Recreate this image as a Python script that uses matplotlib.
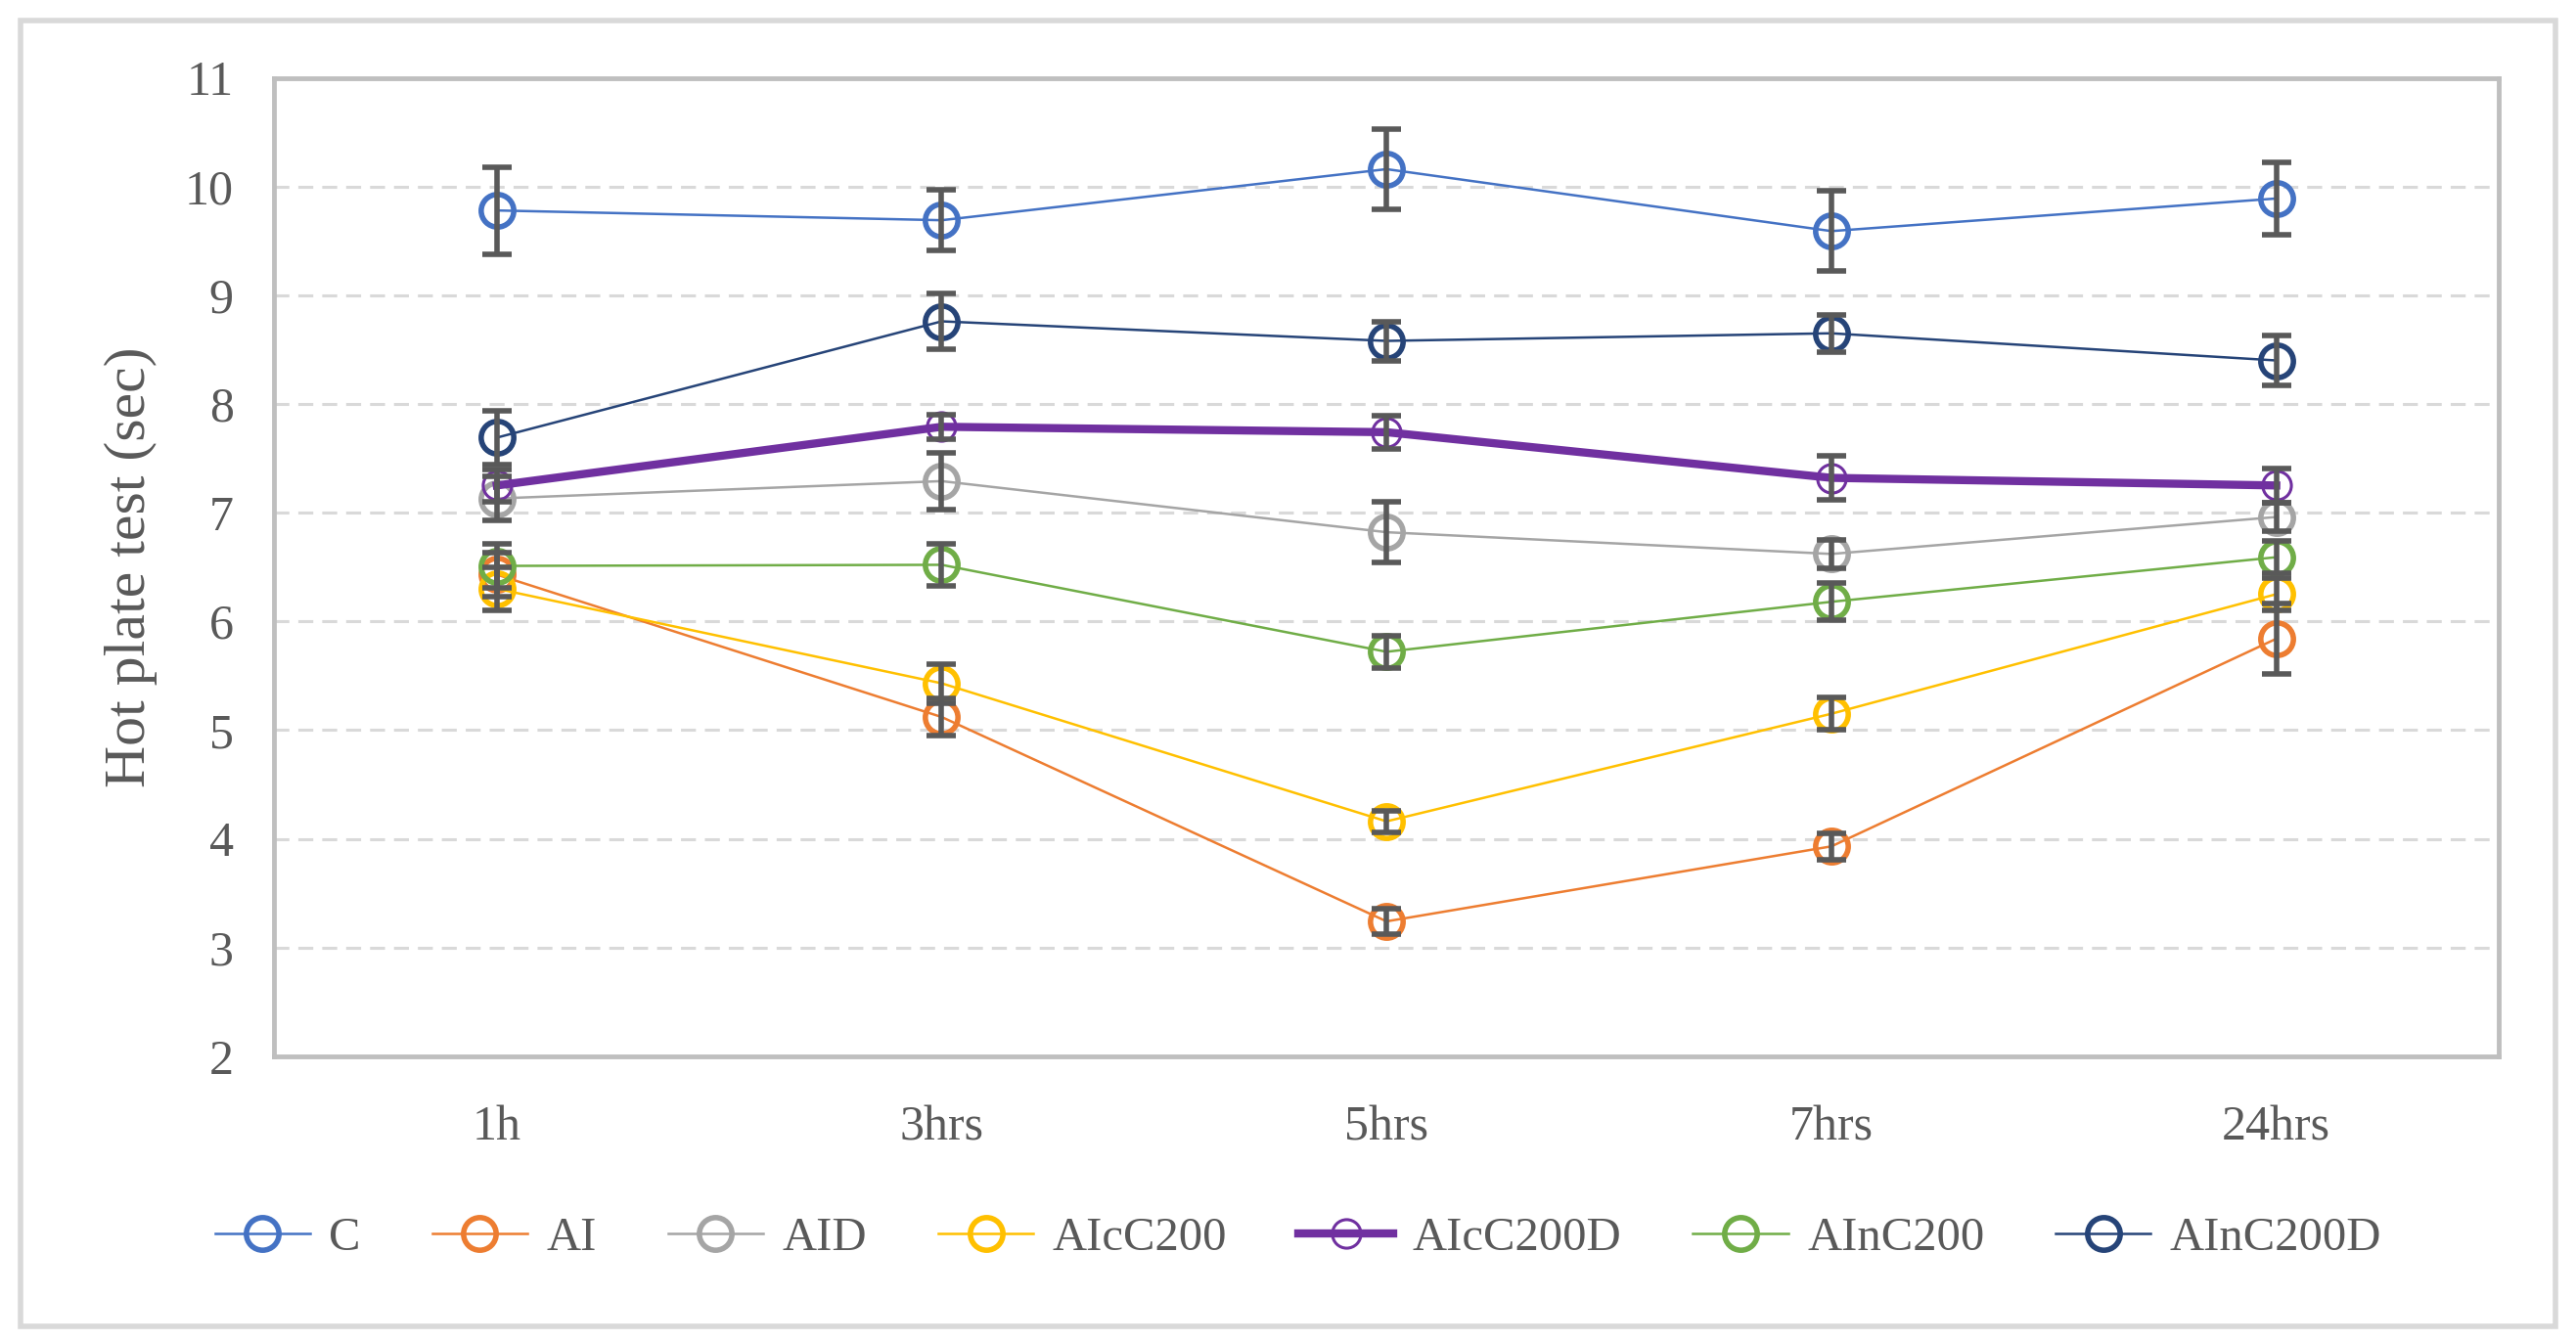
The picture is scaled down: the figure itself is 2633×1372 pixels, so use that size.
import numpy as np
import matplotlib
matplotlib.use('Agg')
import matplotlib.pyplot as plt
from matplotlib.patches import Rectangle

# Data
times = ['1h', '3hrs', '5hrs', '7hrs', '24hrs']
groups = ['C', 'AI', 'AID', 'AIcC200', 'AIcC200D', 'AInC200', 'AInC200D']

c_mean = [9.78, 9.69, 10.16, 9.59, 9.89]
c_err = [0.40, 0.28, 0.37, 0.37, 0.33]
ai_mean = [6.43, 5.12, 3.24, 3.93, 5.84]
ai_err = [0.20, 0.17, 0.12, 0.12, 0.32]
aid_mean = [7.13, 7.29, 6.82, 6.62, 6.96]
aid_err = [0.20, 0.26, 0.28, 0.13, 0.13]
aicc200_mean = [6.30, 5.43, 4.16, 5.15, 6.25]
aicc200_err = [0.20, 0.18, 0.10, 0.15, 0.15]
aicc200d_mean = [7.25, 7.79, 7.74, 7.32, 7.25]
aicc200d_err = [0.15, 0.11, 0.15, 0.20, 0.16]
ainc200_mean = [6.51, 6.52, 5.72, 6.18, 6.59]
ainc200_err = [0.20, 0.19, 0.15, 0.17, 0.15]
ainc200d_mean = [7.69, 8.76, 8.58, 8.65, 8.40]
ainc200d_err = [0.25, 0.26, 0.18, 0.17, 0.23]

means = [c_mean, ai_mean, aid_mean, aicc200_mean, aicc200d_mean, ainc200_mean, ainc200d_mean]
errs = [c_err, ai_err, aid_err, aicc200_err, aicc200d_err, ainc200_err, ainc200d_err]
colors = ['#4472C4', '#ED7D31', '#A5A5A5', '#FFC000', '#7030A0', '#70AD47', '#264478']

plt.rcParams['font.family'] = ['Liberation Serif', 'DejaVu Serif']

fig = plt.figure(figsize=(26.33, 13.72), dpi=100)
ax = fig.add_axes([0.1065, 0.213, 0.8635, 0.729])

x = np.arange(len(times))

# error bars first (drawn over the lines)
for m, e in zip(means, errs):
    ax.errorbar(x, m, yerr=e, fmt='none', ecolor='#595959', elinewidth=4,
                capsize=11, capthick=4, zorder=5)

handles = []
for name, m, col in zip(groups, means, colors):
    if name == 'AIcC200D':
        h, = ax.plot(x, m, color=col, lw=6, marker='o', ms=21, mfc='none',
                     mec=col, mew=2.2, label=name, zorder=4)
    else:
        h, = ax.plot(x, m, color=col, lw=1.8, marker='o', ms=24, mfc='none',
                     mec=col, mew=4, label=name, zorder=4)
    handles.append(h)

ax.set_xlim(-0.5, 4.5)
ax.set_ylim(2, 11)
ax.set_yticks(range(2, 12))
ax.set_xticks(x)
ax.set_xticklabels(times)
ax.tick_params(axis='both', length=0, labelsize=36, colors='#595959')
ax.tick_params(axis='y', pad=30)
ax.tick_params(axis='x', pad=36)
ax.yaxis.grid(True, color='#D9D9D9', ls=(0, (5, 3)), lw=2.2)
ax.set_axisbelow(True)
for s in ax.spines.values():
    s.set_color('#BFBFBF')
    s.set_linewidth(3.5)

ax.set_ylabel('Hot plate test (sec)', fontsize=43, color='#595959', labelpad=20)

fig.legend(handles=handles, loc='center', bbox_to_anchor=(0.504, 0.077), ncol=7,
           frameon=False, fontsize=35, handlelength=2.0, columnspacing=1.5,
           handletextpad=0.4, labelcolor='#595959')

# outer chart border
fig.patches.append(Rectangle((0.008, 0.012), 0.984, 0.973, transform=fig.transFigure,
                             fill=False, edgecolor='#D9D9D9', lw=4))

fig.savefig('out.png', dpi=100)
